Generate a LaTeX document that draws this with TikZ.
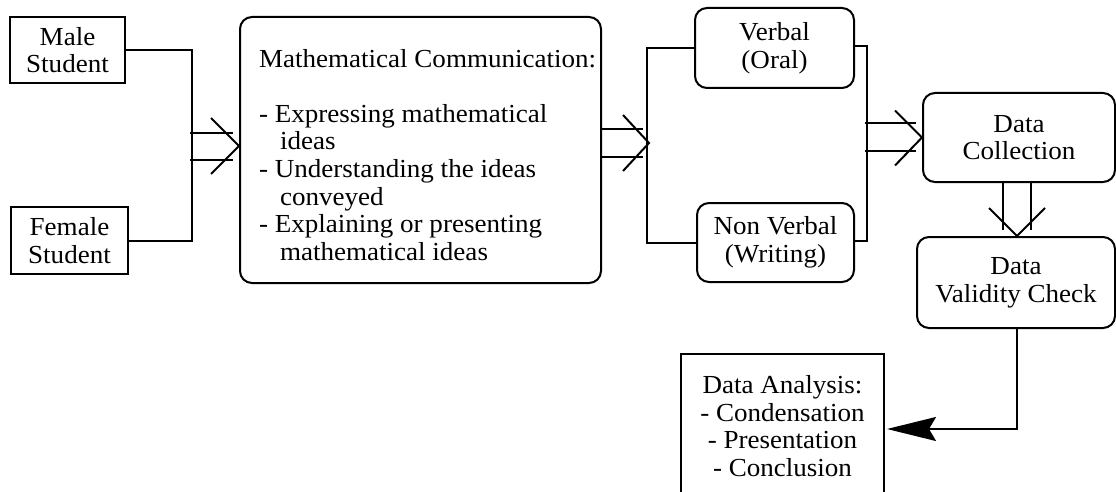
\documentclass[tikz,border=0pt]{standalone}
\usepackage{fontspec}
\setmainfont{Liberation Serif}[FakeStretch=1.04]
\usetikzlibrary{calc,arrows.meta}
\newcommand\diagfont{\fontsize{26}{27.6}\selectfont}
\begin{document}
\begin{tikzpicture}[x=1pt,y=-1pt, line width=2pt,
  sqbox/.style={draw, rectangle, align=center, inner sep=0pt, font=\diagfont},
  rbox/.style={sqbox, rounded corners=12pt},
  txt/.style={align=center, inner sep=0pt, font=\diagfont},
  conn/.style={draw, line width=2pt}]
\useasboundingbox (0,0) rectangle (1116,492);

% nodes
\node[sqbox, minimum width=115pt, minimum height=66pt] (male) at (67.5,50) {Male\\Student};
\node[sqbox, minimum width=117pt, minimum height=67pt] (female) at (69.5,240.5) {Female\\Student};
\node[rbox, minimum width=361pt, minimum height=266pt] (main) at (420.5,150) {};
\node[anchor=north west, align=left, inner sep=0pt, font=\diagfont] (maintext)
  at ($(main.north west)+(19,32)$)
  {Mathematical Communication:\\[27.6pt]
   - Expressing mathematical\\
   \hspace*{21pt}ideas\\
   - Understanding the ideas\\
   \hspace*{21pt}conveyed\\
   - Explaining or presenting\\
   \hspace*{21pt}mathematical ideas};
\node[rbox, minimum width=159pt, minimum height=80pt] (verbal) at (774.5,48) {Verbal\\(Oral)};
\node[rbox, minimum width=157pt, minimum height=79pt] (nonverbal) at (775.5,242.5) {Non Verbal\\(Writing)};
\node[rbox, minimum width=192pt, minimum height=89pt] (coll) at (1019,137.5) {Data\\Collection};
\node[rbox, minimum width=198pt, minimum height=91pt] (val) at (1016,282.5) {Data\\Validity Check};
\node[sqbox, minimum width=203pt, minimum height=180pt, anchor=north] (ana) at (782.5,353) {};
\node[txt] (anatext) at (782.5,426) {Data Analysis:\\- Condensation\\- Presentation\\- Conclusion};

% students to bus
\draw[conn] (male.east) -- ++(66,0) |- (female.east);
% double arrow 1
\coordinate (t1) at ($(main.west)+(0,-4)$);
\draw[conn] ($(t1)+(-49,-13)$) -- ($(t1)+(-6,-13)$);
\draw[conn] ($(t1)+(-49,14)$) -- ($(t1)+(-6,14)$);
\draw[conn] ($(t1)+(-28,-28)$) -- (t1) -- ($(t1)+(-28,28)$);

% bus to verbal / nonverbal
\draw[conn] (verbal.west) -- ++(-47,0) |- (nonverbal.west);
% double arrow 2
\coordinate (t2) at ($(main.east)+(47,-7)$);
\draw[conn] ($(t2)+(-47,-13.5)$) -- ($(t2)+(-6,-13.5)$);
\draw[conn] ($(t2)+(-47,13.5)$) -- ($(t2)+(-6,13.5)$);
\draw[conn] ($(t2)+(-26,-28)$) -- (t2) -- ($(t2)+(-26,28)$);

% verbal / nonverbal to bus
\coordinate (ve) at ($(verbal.east)+(0,-2)$);
\coordinate (ne) at ($(nonverbal.east)+(0,-1.5)$);
\draw[conn] (ve) -- ++(12,0) |- (ne);
% double arrow 3
\coordinate (t3) at (coll.west);
\draw[conn] ($(t3)+(-57,-14.5)$) -- ($(t3)+(-6,-14.5)$);
\draw[conn] ($(t3)+(-57,13.5)$) -- ($(t3)+(-6,13.5)$);
\draw[conn] ($(t3)+(-27,-27)$) -- (t3) -- ($(t3)+(-27,28)$);

% double arrow 4 (down)
\coordinate (t4) at ($(val.north)+(1,0)$);
\draw[conn] ($(t4)+(-14,-55)$) -- ($(t4)+(-14,-6)$);
\draw[conn] ($(t4)+(14,-55)$) -- ($(t4)+(14,-6)$);
\draw[conn] ($(t4)+(-28,-28)$) -- (t4) -- ($(t4)+(28,-28)$);

% validity to analysis
\draw[conn, -{Stealth[length=49pt, width=24pt, inset=7pt]}] ($(val.south)+(1,0)$) |- ($(ana.east)+(2,-15)$);
\end{tikzpicture}
\end{document}
